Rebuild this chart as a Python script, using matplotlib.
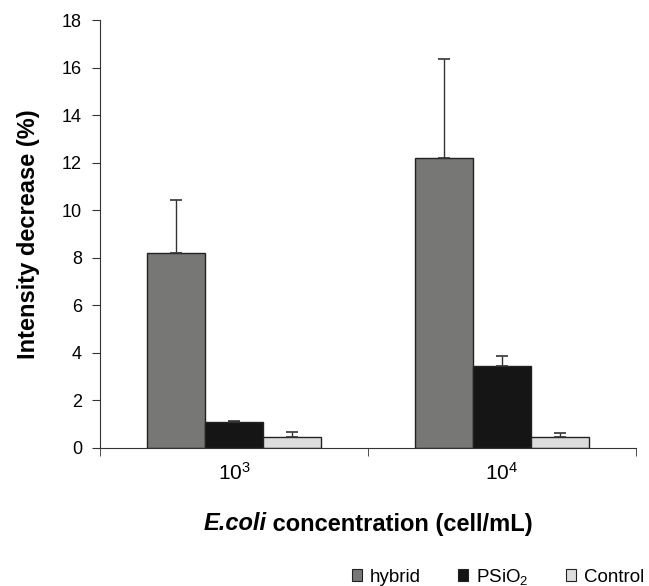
import numpy as np
import matplotlib
matplotlib.use("Agg")
import matplotlib.pyplot as plt
from matplotlib.patches import Patch

plt.rcParams.update({
    "font.family": "Liberation Sans",
    "font.size": 13,
    "mathtext.fontset": "custom",
    "mathtext.rm": "Liberation Sans",
    "mathtext.it": "Liberation Sans:italic",
    "mathtext.bf": "Liberation Sans:bold",
})

concentrations = ["$10^3$", "$10^4$"]
series = ["hybrid", "PSiO$_2$", "Control"]
hybrid = [8.2, 12.2]
psio2 = [1.1, 3.45]
control = [0.48, 0.45]
hybrid_err = [2.25, 4.15]
psio2_err = [0.05, 0.4]
control_err = [0.18, 0.2]

colors = ["#777775", "#151515", "#dcdddc"]

fig = plt.figure(figsize=(6.49, 5.86), dpi=100)
ax = fig.add_axes([0.154, 0.2355, 0.826, 0.73])

x = np.arange(len(concentrations))
width = 0.217
values = [hybrid, psio2, control]
errors = [hybrid_err, psio2_err, control_err]
for i, (vals, errs, col) in enumerate(zip(values, errors, colors)):
    pos = x + (i - 1) * width
    ax.bar(pos, vals, width, color=col, edgecolor="#222222", linewidth=1.0, zorder=2)
    ax.errorbar(pos, vals, yerr=[np.zeros(len(errs)), errs], fmt="none",
                ecolor="#333333", elinewidth=1.0, capsize=4, capthick=1.2, zorder=3)

ax.set_xlim(-0.5, 1.5)
ax.set_ylim(0, 18)
ax.set_yticks(np.arange(0, 19, 2))
ax.set_xticks(x)
ax.set_xticklabels(concentrations, fontsize=15)
ax.set_xticks([-0.5, 0.5, 1.5], minor=True)
ax.tick_params(axis="x", which="major", length=0, pad=10)
ax.tick_params(axis="x", which="minor", length=6, color="#333333")
ax.tick_params(axis="y", length=6, color="#333333", labelsize=13, pad=7)

for s in ["top", "right"]:
    ax.spines[s].set_visible(False)
ax.spines["left"].set_color("#333333")
ax.spines["bottom"].set_color("#333333")

ax.set_ylabel("Intensity decrease (%)", fontsize=17, fontweight="bold", labelpad=16)

# x label: bold italic "E.coli" followed by bold rest, centred under the axis
label_y = 1 - 524 / 586
t1 = fig.text(0.5, label_y, "E.coli", fontsize=17, fontweight="bold",
              fontstyle="italic", ha="left", va="center")
t2 = ax.annotate(" concentration (cell/mL)", xy=(1, 0), xycoords=t1,
                 fontsize=17, fontweight="bold", ha="left", va="bottom",
                 annotation_clip=False)
fig.canvas.draw()
r = fig.canvas.get_renderer()
b1 = t1.get_window_extent(r)
b2 = t2.get_window_extent(r)
total = b2.x1 - b1.x0
axc = ax.get_window_extent(r)
centre = (axc.x0 + axc.x1) / 2
t1.set_x((centre - total / 2) / fig.bbox.width)

handles = [Patch(facecolor=c, edgecolor="#222222", linewidth=0.8) for c in colors]
fig.legend(handles, series, loc="lower right", bbox_to_anchor=(1.018, -0.03),
           ncol=3, frameon=False, fontsize=13.5, handlelength=0.55, handleheight=0.55,
           columnspacing=2.0, handletextpad=0.4)

fig.savefig("out.png", dpi=100)
